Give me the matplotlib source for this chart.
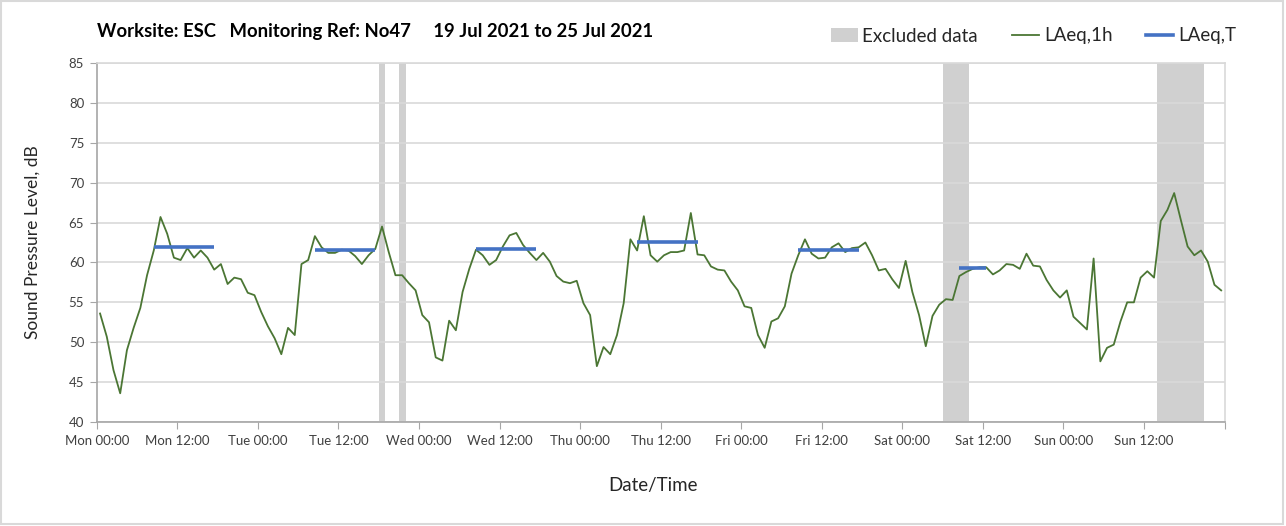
import numpy as np
import matplotlib.pyplot as plt
from matplotlib.patches import Patch, Rectangle
from matplotlib.lines import Line2D

plt.rcParams['font.family'] = ['Lato', 'DejaVu Sans']

day_names = ['Mon', 'Tue', 'Wed', 'Thu', 'Fri', 'Sat', 'Sun']
tick_times = ['00:00', '12:00']

# hourly LAeq,1h values, Mon 19 Jul 00:00 to Sun 25 Jul 23:00
laeq_1h = [
    53.6, 50.7, 46.5, 43.6, 49.0, 51.8, 54.3, 58.4, 61.5, 65.7, 63.6, 60.6,
    60.3, 61.8, 60.6, 61.5, 60.6, 59.1, 59.8, 57.3, 58.1, 57.9, 56.2, 55.9,
    53.8, 52.0, 50.5, 48.5, 51.8, 50.9, 59.8, 60.3, 63.3, 61.9, 61.2, 61.2,
    61.6, 61.5, 60.8, 59.8, 60.9, 61.7, 64.5, 61.3, 58.4, 58.4, 57.4, 56.5,
    53.4, 52.5, 48.1, 47.7, 52.7, 51.5, 56.3, 59.2, 61.6, 60.9, 59.7, 60.3,
    62.0, 63.4, 63.7, 62.2, 61.2, 60.3, 61.2, 60.1, 58.3, 57.6, 57.4, 57.7,
    54.9, 53.4, 47.0, 49.4, 48.5, 50.9, 54.9, 62.9, 61.5, 65.8, 60.9, 60.1,
    60.9, 61.3, 61.3, 61.5, 66.2, 61.0, 60.9, 59.5, 59.1, 59.0, 57.6, 56.5,
    54.5, 54.3, 50.9, 49.3, 52.6, 53.0, 54.5, 58.6, 60.9, 62.9, 61.1, 60.5,
    60.6, 61.9, 62.4, 61.3, 61.8, 61.9, 62.5, 60.9, 59.0, 59.2, 57.9, 56.8,
    60.2, 56.3, 53.4, 49.5, 53.3, 54.7, 55.4, 55.3, 58.3, 58.8, 59.2, 59.4,
    59.4, 58.5, 59.0, 59.8, 59.7, 59.2, 61.1, 59.6, 59.5, 57.8, 56.5, 55.6,
    56.5, 53.2, 52.4, 51.6, 60.5, 47.6, 49.3, 49.7, 52.6, 55.0, 55.0, 58.1,
    58.9, 58.1, 65.2, 66.6, 68.7, 65.3, 62.0, 60.9, 61.5, 60.1, 57.2, 56.5,
]
hours = np.arange(len(laeq_1h)) + 0.5

# excluded periods (hours from Mon 00:00)
excl_start = [42, 45, 126, 158]
excl_end = [43, 46, 130, 165]

# LAeq,T periods
laeqT_start = [8.5, 32.5, 56.5, 80.5, 104.5, 128.5]
laeqT_end = [17.5, 41.5, 65.5, 89.5, 113.5, 132.5]
laeqT_level = [62.0, 61.5, 61.7, 62.6, 61.5, 59.3]

green = '#4b7634'
blue = '#4472c4'
band = '#d0d0d0'

fig = plt.figure(figsize=(12.86, 5.26), dpi=100)
fig.subplots_adjust(left=0.0752, right=0.9522, top=0.8802, bottom=0.1977)
ax = fig.add_subplot(111)

for s, e in zip(excl_start, excl_end):
    ax.axvspan(s, e, color=band, lw=0, zorder=0.3)

ax.plot(hours, laeq_1h, color=green, lw=1.3, zorder=3)
ax.hlines(laeqT_level, laeqT_start, laeqT_end, color=blue, lw=2.6, zorder=4)

ax.set_xlim(0, 168)
ax.set_ylim(40, 85)
ax.set_yticks(np.arange(40, 86, 5))
xlabels = [d + ' ' + t for d in day_names for t in tick_times] + ['']
ax.set_xticks(np.arange(0, 169, 12))
ax.set_xticklabels(xlabels)
ax.set_xticks(np.arange(24, 168, 24), minor=True)

ax.set_axisbelow(True)
ax.grid(axis='y', which='major', color='#d9d9d9', lw=1.2)
ax.grid(axis='x', which='minor', color='#d9d9d9', lw=1.2)
ax.tick_params(which='minor', length=0)
ax.tick_params(which='major', length=5, color='#a6a6a6', labelcolor='#404040',
               labelsize=9.5, pad=4)

for side in ['left', 'bottom']:
    ax.spines[side].set_color('#a6a6a6')
    ax.spines[side].set_linewidth(1.2)
for side in ['top', 'right']:
    ax.spines[side].set_color('#d9d9d9')
    ax.spines[side].set_linewidth(1.2)

ax.set_ylabel('Sound Pressure Level, dB', fontsize=12.5, color='#262626', va='center')
ax.yaxis.set_label_coords(-0.0565, 0.5)
ax.set_xlabel('Date/Time', fontsize=13.5, color='#262626', va='center')
ax.xaxis.set_label_coords(0.493, -0.1755)

fig.text(97 / 1286, 1 - 31 / 526,
         'Worksite: ESC   Monitoring Ref: No47     19 Jul 2021 to 25 Jul 2021',
         fontsize=13.3, fontweight='bold', va='center', ha='left', color='black')

handles = [Patch(facecolor=band, edgecolor='none'),
           Line2D([], [], color=green, lw=1.3),
           Line2D([], [], color=blue, lw=2.6)]
fig.legend(handles, ['Excluded data', 'LAeq,1h', 'LAeq,T'],
           loc='center right', bbox_to_anchor=(1236 / 1286, 1 - 36 / 526),
           ncol=3, frameon=False, fontsize=13.5, handlelength=1.45,
           handletextpad=0.25, columnspacing=1.8, labelcolor='#262626',
           borderaxespad=0, borderpad=0)

fig.patches.append(Rectangle((0.001, 0.004), 0.997, 0.994, transform=fig.transFigure,
                             fill=False, edgecolor='#d9d9d9', lw=1.5))

fig.savefig('out.png', dpi=100)
